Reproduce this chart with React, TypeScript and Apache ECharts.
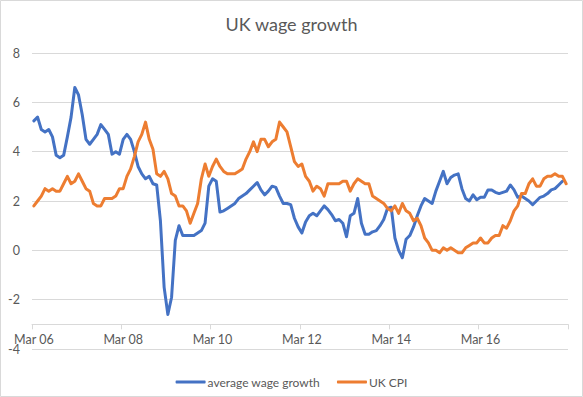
import React, { useEffect, useRef } from "react";
import * as echarts from "echarts";

const MONTH_NAMES = ["Jan", "Feb", "Mar", "Apr", "May", "Jun", "Jul", "Aug", "Sep", "Oct", "Nov", "Dec"];
// Monthly categories, Mar 06 .. Feb 18
const categories: string[] = Array.from({ length: 144 }, (_, i) => {
  const m = (2 + i) % 12;
  const y = 6 + Math.floor((2 + i) / 12);
  return `${MONTH_NAMES[m]} ${String(y).padStart(2, "0")}`;
});

const wageGrowth: (number | null)[] = [
  5.25, 5.4, 4.9, 4.8, 4.9, 4.6, 3.85, 3.75, 3.85, 4.6,
  5.4, 6.6, 6.3, 5.5, 4.5, 4.3, 4.5, 4.7, 5.1, 4.9,
  4.7, 3.9, 4.0, 3.9, 4.5, 4.7, 4.5, 4.0, 3.4, 3.1,
  2.9, 3.0, 2.7, 2.65, 1.2, -1.5, -2.6, -1.9, 0.4, 1.0,
  0.6, 0.6, 0.6, 0.6, 0.7, 0.8, 1.1, 2.6, 2.9, 2.8,
  1.55, 1.6, 1.7, 1.8, 1.9, 2.1, 2.2, 2.3, 2.45, 2.6,
  2.75, 2.45, 2.25, 2.4, 2.6, 2.55, 2.2, 1.9, 1.9, 1.85,
  1.3, 0.95, 0.7, 1.15, 1.4, 1.5, 1.4, 1.6, 1.8, 1.65,
  1.45, 1.2, 1.25, 1.1, 0.55, 1.4, 1.5, 2.1, 1.1, 0.65,
  0.65, 0.75, 0.8, 1.0, 1.25, 1.7, 1.75, 0.5, 0.0, -0.3,
  0.45, 0.6, 0.95, 1.4, 1.8, 2.1, 2.0, 1.9, 2.4, 2.8,
  3.2, 2.7, 2.95, 3.05, 3.1, 2.5, 2.1, 2.0, 2.25, 2.05,
  2.15, 2.15, 2.45, 2.45, 2.35, 2.3, 2.35, 2.4, 2.65, 2.45,
  2.15, 2.2, 2.1, 2.0, 1.85, 2.0, 2.15, 2.2, 2.3, 2.45,
  2.5, 2.65, 2.8, null,
];

const ukCpi: number[] = [
  1.8, 2.0, 2.2, 2.5, 2.4, 2.5, 2.4, 2.4, 2.7, 3.0,
  2.7, 2.8, 3.1, 2.8, 2.5, 2.4, 1.9, 1.8, 1.8, 2.1, 2.1, 2.1,
  2.2, 2.5, 2.5, 3.0, 3.3, 3.8, 4.4, 4.7, 5.2, 4.5, 4.1, 3.1,
  3.0, 3.2, 2.9, 2.3, 2.2, 1.8, 1.8, 1.6, 1.1, 1.5, 1.9, 2.9,
  3.5, 3.0, 3.4, 3.7, 3.4, 3.2, 3.1, 3.1, 3.1, 3.2, 3.3, 3.7,
  4.0, 4.4, 4.0, 4.5, 4.5, 4.2, 4.4, 4.5, 5.2, 5.0, 4.8, 4.2,
  3.6, 3.4, 3.5, 3.0, 2.8, 2.4, 2.6, 2.5, 2.2, 2.7, 2.7, 2.7,
  2.7, 2.8, 2.8, 2.4, 2.7, 2.9, 2.8, 2.7, 2.7, 2.2, 2.1, 2.0,
  1.9, 1.7, 1.6, 1.8, 1.5, 1.9, 1.6, 1.5, 1.2, 1.3, 1.0, 0.5,
  0.3, 0.0, 0.0, -0.1, 0.1, 0.0, 0.1, 0.0, -0.1, -0.1, 0.1, 0.2,
  0.3, 0.3, 0.5, 0.3, 0.3, 0.5, 0.6, 0.6, 1.0, 0.9, 1.2, 1.6,
  1.8, 2.3, 2.3, 2.7, 2.9, 2.6, 2.6, 2.9, 3.0, 3.0, 3.1, 3.0,
  3.0, 2.7,
];

const yTicks = { min: -4, max: 8, interval: 2 };
const FONT = "Lato, 'Open Sans', sans-serif";

export default function App() {
  const ref = useRef<HTMLDivElement>(null);
  useEffect(() => {
    if (!ref.current) return;
    const chart = echarts.init(ref.current, undefined, { renderer: "svg" });
    const gridTop = 53;
    const gridBottom = 48;
    const gridHeight = 397 - gridTop - gridBottom;
    const perUnit = gridHeight / (yTicks.max - yTicks.min);
    chart.setOption({
      animation: false,
      backgroundColor: "#ffffff",
      title: {
        text: "UK wage growth",
        left: "center",
        top: 10,
        textStyle: { fontFamily: FONT, fontSize: 18, fontWeight: "normal", color: "#595959" },
      },
      graphic: [
        {
          type: "rect",
          shape: { x: 0.5, y: 0.5, width: 582, height: 396 },
          style: { fill: "none", stroke: "#d9d9d9", lineWidth: 1 },
          silent: true,
        },
      ],
      legend: {
        top: 371,
        left: "center",
        icon: "roundRect",
        itemWidth: 30,
        itemHeight: 3,
        itemGap: 17,
        textStyle: { fontFamily: FONT, fontSize: 12, color: "#595959", padding: [0, 0, 0, -3] },
        data: ["average wage growth", "UK CPI"],
      },
      grid: { left: 32, right: 15, top: gridTop, bottom: gridBottom, containLabel: false },
      xAxis: {
        type: "category",
        data: categories,
        boundaryGap: true,
        position: "bottom",
        offset: -perUnit * 1,
        axisLine: { onZero: false, lineStyle: { color: "#d9d9d9", width: 1 } },
        axisTick: { show: true, interval: 23, length: 5, lineStyle: { color: "#d9d9d9" } },
        axisLabel: { interval: 23, color: "#595959", fontFamily: FONT, fontSize: 12.5, margin: 9 },
        splitLine: { show: false },
      },
      yAxis: {
        type: "value",
        min: yTicks.min,
        max: yTicks.max,
        interval: yTicks.interval,
        axisLine: { show: false },
        axisTick: { show: false },
        axisLabel: { color: "#595959", fontFamily: FONT, fontSize: 12.5, margin: 12 },
        splitLine: { lineStyle: { color: "#d9d9d9", width: 1 } },
      },
      series: [
        {
          name: "average wage growth",
          type: "line",
          data: wageGrowth,
          showSymbol: false,
          symbol: "none",
          connectNulls: false,
          color: "#4472C4",
          lineStyle: { width: 3, color: "#4472C4", cap: "round", join: "round" },
        },
        {
          name: "UK CPI",
          type: "line",
          data: ukCpi,
          showSymbol: false,
          symbol: "none",
          color: "#ED7D31",
          lineStyle: { width: 3, color: "#ED7D31", cap: "round", join: "round" },
        },
      ],
    });
    return () => chart.dispose();
  }, []);
  return (
    <div
      ref={ref}
      style={{ position: "absolute", left: 0, top: 0, width: 583, height: 397 }}
    />
  );
}
